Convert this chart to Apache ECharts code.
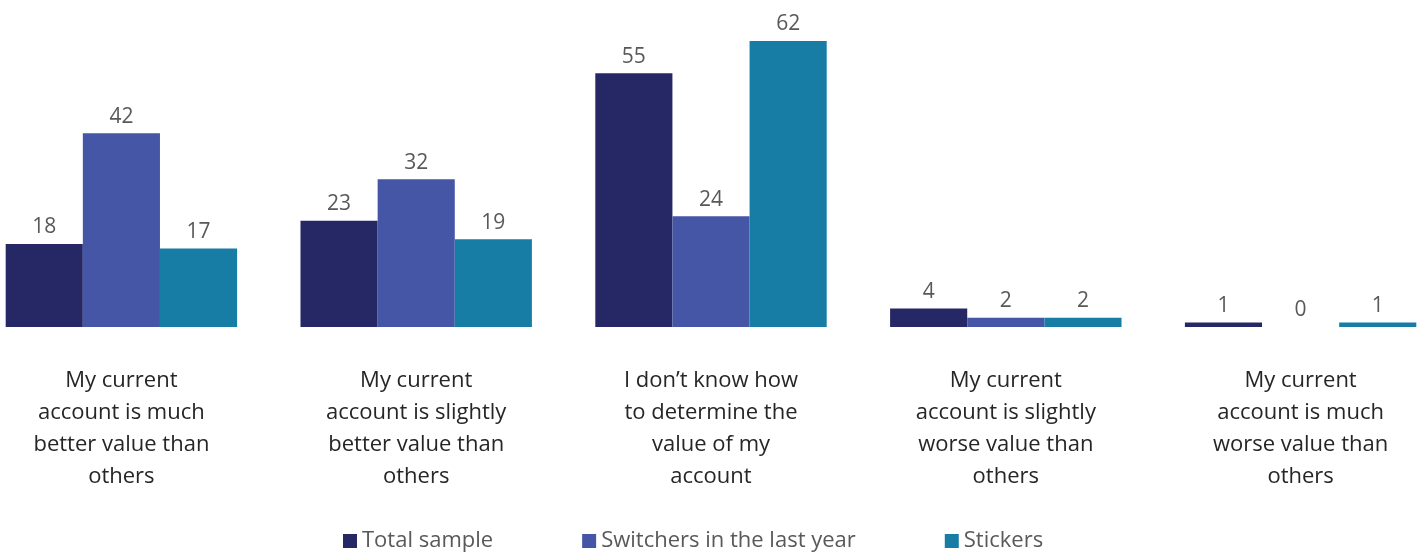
<!DOCTYPE html>
<html>
<head>
<meta charset="utf-8">
<script src="https://cdn.jsdelivr.net/npm/echarts@6/dist/echarts.min.js"></script>
<style>
html,body{margin:0;padding:0;background:#fff;}
#chart{width:1419px;height:552px;}
</style>
</head>
<body>
<div id="chart"></div>
<script>
const categories = [
  'My current\naccount is much\nbetter value than\nothers',
  'My current\naccount is slightly\nbetter value than\nothers',
  'I don\u2019t know how\nto determine the\nvalue of my\naccount',
  'My current\naccount is slightly\nworse value than\nothers',
  'My current\naccount is much\nworse value than\nothers'
];
const seriesNames = ['Total sample', 'Switchers in the last year', 'Stickers'];
const totalSample = [18, 23, 55, 4, 1];
const switchers = [42, 32, 24, 2, 0];
const stickers = [17, 19, 62, 2, 1];
const colors = ['#262866', '#4656A6', '#177DA4'];

const font = '"Open Sans", "Noto Sans", sans-serif';
const chart = echarts.init(document.getElementById('chart'));

function makeSeries(name, data, color) {
  return {
    name: name,
    type: 'bar',
    data: data,
    barGap: '0%',
    barCategoryGap: '21.5%',
    itemStyle: { color: color },
    label: {
      show: true,
      position: 'top',
      distance: 6,
      color: '#595959',
      fontFamily: font,
      fontSize: 21
    }
  };
}

chart.setOption({
  animation: false,
  color: colors,
  grid: {
    left: -26, right: -29, top: 4, bottom: 225,
    containLabel: false,
    outerBoundsMode: 'none'
  },
  xAxis: {
    type: 'category',
    data: categories,
    axisLine: { show: false },
    axisTick: { show: false },
    axisLabel: {
      interval: 0,
      margin: 38,
      color: '#262626',
      fontFamily: font,
      fontSize: 22,
      lineHeight: 32
    }
  },
  yAxis: {
    type: 'value',
    min: 0,
    max: 70,
    show: false,
    splitLine: { show: false }
  },
  legend: {
    top: 525,
    left: 338,
    itemWidth: 14,
    itemHeight: 14,
    itemGap: 89,
    icon: 'rect',
    textStyle: { color: '#595959', fontFamily: font, fontSize: 22 },
    data: seriesNames
  },
  series: [
    makeSeries(seriesNames[0], totalSample, colors[0]),
    makeSeries(seriesNames[1], switchers, colors[1]),
    makeSeries(seriesNames[2], stickers, colors[2])
  ]
});
</script>
</body>
</html>
